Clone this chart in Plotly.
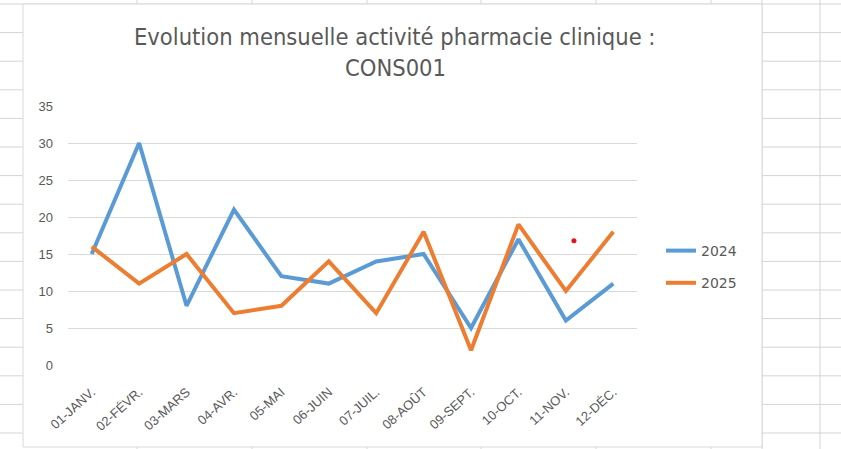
import plotly.graph_objects as go

# ---- data ----
months = ["01-JANV.", "02-FÉVR.", "03-MARS", "04-AVR.", "05-MAI", "06-JUIN",
          "07-JUIL.", "08-AOÛT", "09-SEPT.", "10-OCT.", "11-NOV.", "12-DÉC."]
values_2024 = [15, 30, 8, 21, 12, 11, 14, 15, 5, 17, 6, 11]
values_2025 = [16, 11, 15, 7, 8, 14, 7, 18, 2, 19, 10, 18]
series_names = ["2024", "2025"]
y_ticks = [0, 5, 10, 15, 20, 25, 30, 35]
stray_dot_x = [10.17]
stray_dot_y = [16.8]

title_line1 = "Evolution mensuelle activité pharmacie clinique :"
title_line2 = "CONS001"

# ---- layout geometry (pixels) ----
W, H = 841, 449
PL, PR, PT, PB = 68, 637, 106, 365  # plot area edges

def px2x(px):
    return (px - PL) / (PR - PL)

def py2y(py):
    return (PB - py) / (PB - PT)

x_idx = list(range(len(months)))

fig = go.Figure()
colors = ["#5B9BD5", "#ED7D31"]
for i, (name, vals) in enumerate(zip(series_names, [values_2024, values_2025])):
    fig.add_trace(go.Scatter(
        x=x_idx, y=vals, mode="lines", name=name,
        line=dict(color=colors[i], width=4),
        legendgroup=name,
    ))

fig.add_trace(go.Scatter(
    x=stray_dot_x, y=stray_dot_y, mode="markers",
    marker=dict(color="#E8101A", size=5), showlegend=False, hoverinfo="skip",
))

# spreadsheet background grid
shapes = []
grid_col = "#D4D4D4"
row_y = [4 + 28.6 * k for k in range(16)]
for yy in row_y:
    shapes.append(dict(type="line", xref="paper", yref="paper",
                       x0=px2x(0), x1=px2x(W), y0=py2y(yy), y1=py2y(yy),
                       line=dict(color=grid_col, width=1), layer="below"))
col_x = [137, 252, 367, 481, 596, 711, 762, 820]
for xx in col_x:
    shapes.append(dict(type="line", xref="paper", yref="paper",
                       x0=px2x(xx), x1=px2x(xx), y0=py2y(0), y1=py2y(H),
                       line=dict(color=grid_col, width=1), layer="below"))
# chart frame
shapes.append(dict(type="rect", xref="paper", yref="paper",
                   x0=px2x(23), x1=px2x(762), y0=py2y(447), y1=py2y(4),
                   fillcolor="white", line=dict(color="#D9D9D9", width=1),
                   layer="below"))

title_font = dict(family="Liberation Sans Narrow, DejaVu Sans Condensed, Arial Narrow, sans-serif",
                  size=23.5, color="#595959")
annotations = [
    dict(text=title_line1, x=px2x(395), y=py2y(37), xref="paper", yref="paper",
         showarrow=False, font=title_font, xanchor="center", yanchor="middle"),
    dict(text=title_line2, x=px2x(395), y=py2y(68), xref="paper", yref="paper",
         showarrow=False, font=title_font, xanchor="center", yanchor="middle"),
]

tick_font = dict(family="Liberation Sans, Arial, sans-serif", size=13, color="#595959")

fig.update_layout(
    width=W, height=H,
    margin=dict(l=PL, r=W - PR, t=PT, b=H - PB, pad=0),
    paper_bgcolor="white", plot_bgcolor="rgba(0,0,0,0)",
    shapes=shapes, annotations=annotations,
    showlegend=True,
    legend=dict(x=px2x(661), y=py2y(267), xanchor="left", yanchor="middle",
                font=dict(family="DejaVu Sans, sans-serif", size=14, color="#595959"),
                tracegroupgap=11, bgcolor="rgba(0,0,0,0)"),
    xaxis=dict(range=[-0.5, 11.5], tickvals=x_idx, ticktext=months,
               tickangle=-42, showgrid=False, zeroline=False, showline=False,
               ticks="", ticklabelstandoff=16, tickfont=tick_font,
               automargin=False, fixedrange=True),
    yaxis=dict(range=[0, 35], tickvals=y_ticks, showgrid=True,
               gridcolor="#D9D9D9", gridwidth=1, zeroline=False, showline=False,
               ticks="", ticklabelstandoff=14, tickfont=tick_font, automargin=False),
)

fig.write_html("out.html", post_script="document.body.style.margin='0';",
               config={"displayModeBar": False})
